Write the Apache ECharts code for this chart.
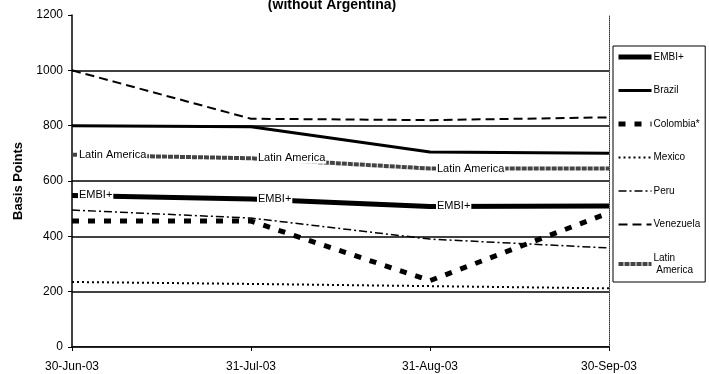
<!DOCTYPE html>
<html>
<head>
<meta charset="utf-8">
<script src="https://cdn.jsdelivr.net/npm/echarts@6/dist/echarts.min.js"></script>
<style>
html,body{margin:0;padding:0;background:#fff;}
#chart{width:709px;height:374px;}
</style>
</head>
<body>
<div id="chart"></div>
<script>
// ---- data ----
var categories = ['30-Jun-03', '31-Jul-03', '31-Aug-03', '30-Sep-03'];
var embi = [548, 535, 508, 510];
var brazil = [800, 796, 705, 700];
var colombia = [455, 455, 240, 485];
var mexico = [235, 228, 220, 212];
var peru = [495, 466, 390, 358];
var venezuela = [1000, 825, 820, 830];
var latinAmerica = [695, 682, 645, 645];
var yTicks = [0, 200, 400, 600, 800, 1000, 1200];
var labelledPoints = [0, 1, 2];

var FONT = '"Liberation Sans", Arial, sans-serif';

function withLabels(values, name) {
  return values.map(function (v, i) {
    if (labelledPoints.indexOf(i) >= 0) {
      return { value: v, label: { show: true, formatter: name } };
    }
    return v;
  });
}

var chart = echarts.init(document.getElementById('chart'), null, { renderer: 'canvas' });

var labelStyle = {
  position: 'right',
  distance: 6,
  color: '#000',
  fontFamily: FONT,
  fontSize: 11,
  backgroundColor: '#fff',
  padding: [0, 1, 0, 1]
};

var option = {
  animation: false,
  backgroundColor: '#fff',
  title: {
    text: '(without Argentina)',
    left: 327,
    top: -7,
    textAlign: 'center',
    textStyle: { fontFamily: FONT, fontSize: 14, fontWeight: 'bold', color: '#000' }
  },
  grid: { left: 72, right: 100, top: 15, bottom: 27, containLabel: false },
  legend: {
    orient: 'vertical',
    left: 613,
    top: 46,
    padding: [5, 5, 6, 3],
    itemWidth: 33,
    itemHeight: 14,
    itemGap: 21.5,
    borderColor: '#000',
    borderWidth: 1,
    itemStyle: { opacity: 0 },
    textStyle: { fontFamily: FONT, fontSize: 10, color: '#000', padding: [0, 0, 0, -3], lineHeight: 12 },
    formatter: function (n) { return n === 'Latin America' ? 'Latin\n America' : n; },
    data: [
      { name: 'EMBI+', lineStyle: { width: 5 } },
      { name: 'Brazil', lineStyle: { width: 3 } },
      { name: 'Colombia*', lineStyle: { width: 5 } },
      { name: 'Mexico', lineStyle: { width: 2 } },
      { name: 'Peru', lineStyle: { width: 1.5 } },
      { name: 'Venezuela', lineStyle: { width: 2 } },
      { name: 'Latin America', lineStyle: { width: 4 } }
    ]
  },
  xAxis: [{
    type: 'category',
    data: categories,
    boundaryGap: false,
    axisLine: { lineStyle: { color: '#000', width: 1.5 } },
    axisTick: { show: true, length: 4, lineStyle: { color: '#000' } },
    axisLabel: { color: '#000', fontFamily: FONT, fontSize: 12, margin: 14 },
    splitLine: { show: false }
  }, {
    type: 'category',
    data: categories,
    boundaryGap: false,
    position: 'top',
    axisLine: { lineStyle: { color: '#333', width: 1, type: [1, 1] } },
    axisTick: { show: false },
    axisLabel: { show: false }
  }],
  yAxis: [{
    type: 'value',
    min: yTicks[0],
    max: yTicks[yTicks.length - 1],
    interval: 200,
    name: 'Basis Points',
    nameLocation: 'middle',
    nameGap: 46,
    nameTextStyle: { fontFamily: FONT, fontSize: 13, fontWeight: 'bold', color: '#000' },
    axisLine: { show: true, lineStyle: { color: '#000', width: 1.5 } },
    axisTick: { show: true, length: 4, lineStyle: { color: '#000' } },
    axisLabel: { color: '#000', fontFamily: FONT, fontSize: 12, margin: 9, formatter: function (v) { return String(v); } },
    splitLine: { show: true, showMaxLine: false, lineStyle: { color: '#000', width: 1.5 } }
  }, {
    type: 'value',
    min: yTicks[0],
    max: yTicks[yTicks.length - 1],
    interval: 200,
    position: 'right',
    axisLine: { show: true, lineStyle: { color: '#333', width: 1, type: [1, 1] } },
    axisTick: { show: false },
    axisLabel: { show: false },
    splitLine: { show: false }
  }],
  series: [
    {
      name: 'EMBI+', type: 'line', data: withLabels(embi, 'EMBI+'), z: 6,
      symbol: 'circle', symbolSize: 0, showSymbol: true,
      itemStyle: { color: '#000' },
      lineStyle: { color: '#000', width: 5 },
      label: labelStyle
    },
    {
      name: 'Brazil', type: 'line', data: brazil, symbol: 'none', z: 3,
      itemStyle: { color: '#000' },
      lineStyle: { color: '#000', width: 3 }
    },
    {
      name: 'Colombia*', type: 'line', data: colombia, symbol: 'none', z: 3,
      itemStyle: { color: '#000' },
      lineStyle: { color: '#000', width: 5, type: [7, 9] }
    },
    {
      name: 'Mexico', type: 'line', data: mexico, symbol: 'none', z: 3,
      itemStyle: { color: '#000' },
      lineStyle: { color: '#000', width: 2, type: [2, 3] }
    },
    {
      name: 'Peru', type: 'line', data: peru, symbol: 'none', z: 3,
      itemStyle: { color: '#000' },
      lineStyle: { color: '#000', width: 1.5, type: [8, 3, 2, 3] }
    },
    {
      name: 'Venezuela', type: 'line', data: venezuela, symbol: 'none', z: 3,
      itemStyle: { color: '#000' },
      lineStyle: { color: '#000', width: 2, type: [9, 5] }
    },
    {
      name: 'Latin America', type: 'line', data: withLabels(latinAmerica, 'Latin America'), z: 5,
      symbol: 'circle', symbolSize: 0, showSymbol: true,
      itemStyle: { color: '#444' },
      lineStyle: { color: '#444', width: 4, type: [5, 1] },
      label: labelStyle
    }
  ]
};

chart.setOption(option);
</script>
</body>
</html>
